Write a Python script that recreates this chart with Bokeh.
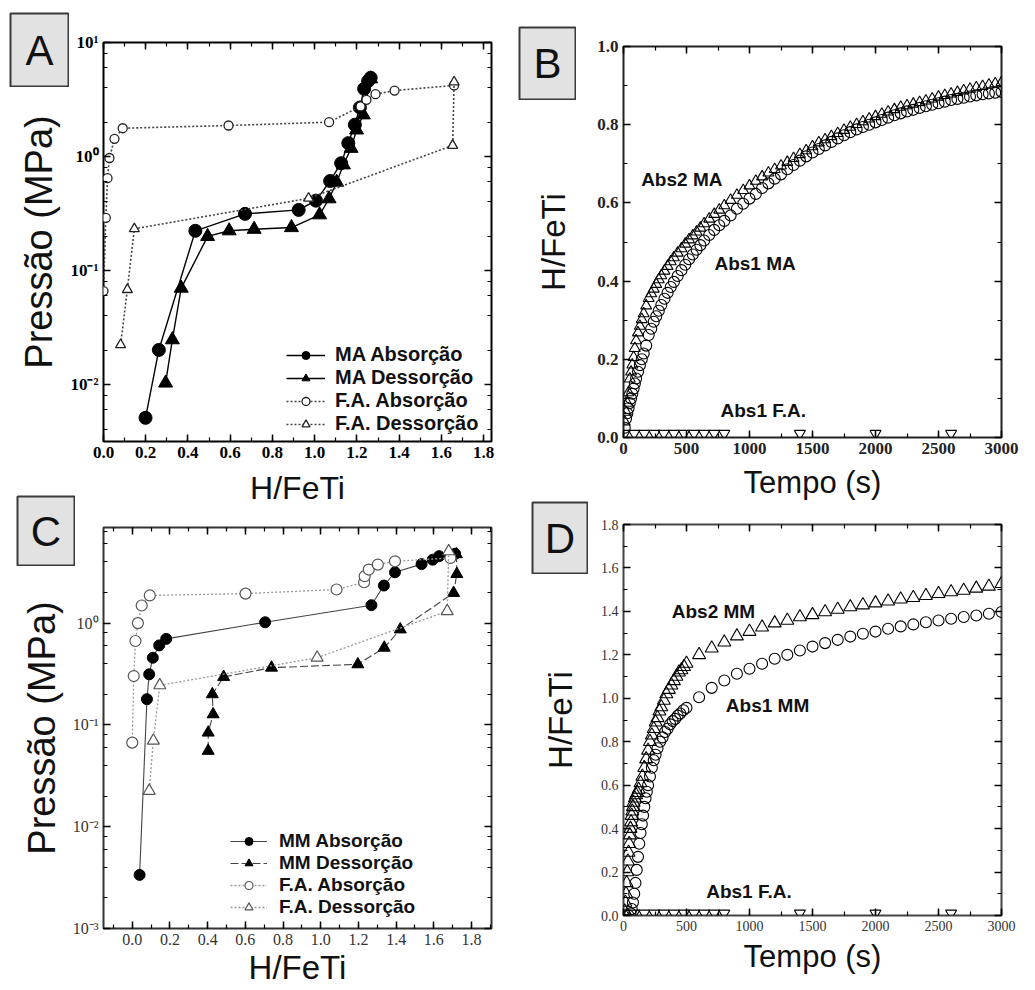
from bokeh.plotting import figure
from bokeh.layouts import row
from bokeh.models import (Range1d, LinearAxis, LogAxis, LogTicker, SingleIntervalTicker, GridBox,
                          CustomJSTickFormatter, PrintfTickFormatter, Label, Legend, LegendItem)
from bokeh.embed import file_html
from bokeh.resources import INLINE

# ---------------- data ----------------
# Panel A : PCT, MA vs F.A.
a_ma_abs_x = [0.199, 0.262, 0.435, 0.67, 0.924, 1.006, 1.073, 1.125, 1.159, 1.19, 1.214, 1.234, 1.253, 1.265]
a_ma_abs_y = [0.0051, 0.0201, 0.223, 0.314, 0.34, 0.41, 0.61, 0.873, 1.31, 1.9, 2.69, 3.93, 4.6, 4.9]
a_ma_des_x = [1.265, 1.23, 1.198, 1.172, 1.136, 1.104, 1.068, 1.023, 0.89, 0.713, 0.595, 0.493, 0.368, 0.326, 0.294]
a_ma_des_y = [4.8, 2.32, 1.71, 1.18, 0.845, 0.595, 0.426, 0.308, 0.238, 0.23, 0.223, 0.199, 0.07, 0.0247, 0.0103]
a_fa_abs_x = [0.0, 0.011, 0.019, 0.028, 0.052, 0.091, 0.592, 1.068, 1.217, 1.245, 1.288, 1.378, 1.66]
a_fa_abs_y = [0.066, 0.29, 0.645, 0.97, 1.43, 1.77, 1.87, 2.0, 2.75, 3.14, 3.52, 3.79, 4.2]
a_fa_des_x = [1.66, 1.653, 0.971, 0.146, 0.113, 0.081]
a_fa_des_y = [4.5, 1.25, 0.43, 0.232, 0.068, 0.0223]

# Panel B : kinetics MA
b_t = [10, 20, 30, 40, 50, 60, 70, 80, 90, 100,
       115, 130, 145, 160,
       180, 200, 220, 240, 260, 280, 300,
       325, 350, 375, 400,
       430, 460, 490, 520, 550, 580, 610, 640,
       680, 720, 760, 800,
       850, 900, 950, 1000, 1050, 1100, 1150, 1200, 1250, 1300, 1350, 1400, 1450, 1500,
       1550, 1600, 1650, 1700, 1750, 1800, 1850, 1900, 1950, 2000, 2050, 2100, 2150, 2200,
       2250, 2300, 2350, 2400, 2450, 2500, 2550, 2600, 2650, 2700, 2750, 2800, 2850, 2900,
       2950, 3000]
b_abs1_ma = [0.025, 0.048, 0.062, 0.075, 0.088, 0.10, 0.112, 0.125, 0.138, 0.151,
             0.168, 0.185, 0.2, 0.215,
             0.235, 0.262, 0.278, 0.296, 0.31, 0.324, 0.339,
             0.355, 0.37, 0.385, 0.398,
             0.413, 0.428, 0.442, 0.456, 0.468, 0.48, 0.492, 0.504,
             0.518, 0.531, 0.543, 0.554,
             0.568, 0.585, 0.598, 0.611, 0.623, 0.638, 0.65, 0.662, 0.673, 0.686, 0.697, 0.708, 0.719, 0.729,
             0.738, 0.747, 0.756, 0.765, 0.773, 0.781, 0.788, 0.794, 0.80, 0.806, 0.812, 0.818, 0.824, 0.829,
             0.834, 0.838, 0.843, 0.847, 0.851, 0.855, 0.859, 0.863, 0.866, 0.869, 0.872, 0.875, 0.878, 0.88,
             0.882, 0.884]
b_abs2_ma = [0.04, 0.065, 0.088, 0.115, 0.15, 0.168, 0.186, 0.205, 0.228, 0.248,
             0.268, 0.285, 0.302, 0.317,
             0.337, 0.356, 0.368, 0.38, 0.392, 0.404, 0.414,
             0.426, 0.438, 0.45, 0.46,
             0.472, 0.483, 0.495, 0.506, 0.516, 0.526, 0.536, 0.547,
             0.559, 0.571, 0.582, 0.593,
             0.607, 0.62, 0.632, 0.644, 0.656, 0.667, 0.677, 0.686, 0.695, 0.704, 0.714, 0.724, 0.734, 0.744,
             0.754, 0.762, 0.77, 0.778, 0.786, 0.794, 0.801, 0.808, 0.815, 0.821, 0.827, 0.833, 0.839, 0.845,
             0.849, 0.853, 0.857, 0.861, 0.866, 0.871, 0.875, 0.879, 0.883, 0.887, 0.891, 0.895, 0.898, 0.902,
             0.905, 0.908]
fa_t = [10, 85, 165, 245, 320, 400, 480, 560, 640, 720, 800, 1400, 2000, 2600]
fa_v = [0.01, 0.01, 0.01, 0.01, 0.01, 0.01, 0.01, 0.01, 0.01, 0.01, 0.01, 0.01, 0.01, 0.01]

# Panel C : PCT, MM vs F.A.
c_mm_abs_x = [0.039, 0.078, 0.09, 0.109, 0.143, 0.18, 0.705, 1.269, 1.335, 1.394, 1.535, 1.594, 1.628, 1.688, 1.713]
c_mm_abs_y = [0.00336, 0.179, 0.314, 0.457, 0.604, 0.70, 1.02, 1.5, 2.34, 3.16, 3.8, 4.2, 4.55, 4.71, 4.8]
c_mm_des_x = [1.72, 1.722, 1.705, 1.422, 1.337, 1.197, 0.739, 0.485, 0.425, 0.429, 0.403, 0.403]
c_mm_des_y = [4.75, 3.04, 1.98, 0.867, 0.573, 0.394, 0.365, 0.296, 0.2, 0.127, 0.084, 0.0556]
c_fa_abs_x = [0.0, 0.008, 0.017, 0.03, 0.05, 0.093, 0.601, 1.084, 1.23, 1.233, 1.255, 1.303, 1.394, 1.688]
c_fa_abs_y = [0.067, 0.302, 0.667, 1.0, 1.49, 1.87, 1.95, 2.14, 2.52, 2.89, 3.36, 3.76, 4.05, 4.37]
c_fa_des_x = [1.679, 1.671, 0.981, 0.146, 0.112, 0.09]
c_fa_des_y = [5.08, 1.31, 0.457, 0.245, 0.07, 0.0225]

# Panel D : kinetics MM
d_abs2_t = [10, 15, 20, 25, 30, 35, 40, 45, 50, 55, 60, 65, 70, 75, 80, 90, 100, 110, 120, 135, 150,
            165, 180, 195, 210, 225, 240, 255, 270, 285, 300, 320, 340, 360, 380, 400, 420, 440, 460,
            480, 500, 600, 700, 800, 900, 1000, 1100, 1200, 1300, 1400, 1500, 1600, 1700, 1800, 1900,
            2000, 2100, 2200, 2300, 2400, 2500, 2600, 2700, 2800, 2900, 3000]
d_abs2_mm = [0.02, 0.06, 0.10, 0.15, 0.20, 0.25, 0.29, 0.33, 0.37, 0.40, 0.43, 0.46, 0.48, 0.50, 0.52,
             0.54, 0.555, 0.565, 0.58, 0.61, 0.64, 0.68, 0.72, 0.76, 0.80, 0.83, 0.86, 0.89, 0.91, 0.94,
             0.96, 0.99, 1.02, 1.04, 1.06, 1.08, 1.10, 1.12, 1.13, 1.145, 1.16, 1.20, 1.23, 1.258, 1.286,
             1.307, 1.327, 1.346, 1.358, 1.374, 1.384, 1.397, 1.409, 1.42, 1.429, 1.438, 1.447, 1.456,
             1.463, 1.472, 1.481, 1.489, 1.496, 1.506, 1.515, 1.527]
d_abs1_t = [40, 55, 65, 75, 85, 95, 105, 115, 125, 135, 145, 155, 165, 175, 185, 195, 210, 225, 240,
            255, 270, 290, 310, 330, 350, 370, 390, 410, 430, 450, 475, 500, 600, 700, 800, 900, 1000,
            1100, 1200, 1300, 1400, 1500, 1600, 1700, 1800, 1900, 2000, 2100, 2200, 2300, 2400, 2500,
            2600, 2700, 2800, 2900, 3000]
d_abs1_mm = [0.0, 0.01, 0.03, 0.06, 0.10, 0.15, 0.21, 0.27, 0.33, 0.38, 0.42, 0.46, 0.50, 0.54, 0.57,
             0.60, 0.64, 0.68, 0.715, 0.74, 0.77, 0.80, 0.82, 0.845, 0.86, 0.88, 0.895, 0.905, 0.92, 0.93,
             0.945, 0.956, 1.005, 1.048, 1.082, 1.113, 1.136, 1.159, 1.182, 1.20, 1.22, 1.238, 1.254,
             1.269, 1.284, 1.297, 1.307, 1.32, 1.331, 1.34, 1.35, 1.358, 1.366, 1.374, 1.381, 1.389, 1.397]

legend_a = ["MA Absorção", "MA Dessorção", "F.A. Absorção", "F.A. Dessorção"]
legend_c = ["MM Absorção", "MM Dessorção", "F.A. Absorção", "F.A. Dessorção"]
panel_letters = ["A", "B", "C", "D"]

# ---------------- styling helpers ----------------
SERIF = "Liberation Serif"
SANS = "Liberation Sans"

SUP_JS = """
const sup = {"-": "\u207b", "0": "\u2070", "1": "\u00b9", "2": "\u00b2", "3": "\u00b3",
             "4": "\u2074", "5": "\u2075", "6": "\u2076", "7": "\u2077", "8": "\u2078", "9": "\u2079"};
const e = Math.round(Math.log10(tick));
return "10" + String(e).split("").map(c => sup[c]).join("");
"""
EMPTY_JS = "return '';"


def tick_style(ax, size, bold, color):
    ax.major_tick_in = 7
    ax.major_tick_out = 0
    ax.minor_tick_in = 4
    ax.minor_tick_out = 0
    ax.major_tick_line_width = 1.5
    ax.minor_tick_line_width = 1.2
    ax.major_tick_line_color = "black"
    ax.minor_tick_line_color = "black"
    ax.axis_line_color = None
    ax.major_label_text_font = SERIF
    ax.major_label_text_font_size = size
    ax.major_label_text_font_style = "bold" if bold else "normal"
    ax.major_label_text_color = color
    ax.axis_label_text_font = SANS
    ax.axis_label_text_font_style = "normal"
    ax.axis_label_text_color = "#111111"


def make_panel(w, h, bl, br, bt, bb, xr, yr, ylog, xint, xminor, yint, yminor,
               tsize, tbold, tcolor, outline, xlabel, ylabel, xl_size, yl_size,
               xl_standoff, yl_standoff, xfmt):
    p = figure(width=w, height=h, x_range=Range1d(*xr), y_range=Range1d(*yr),
               y_axis_type="log" if ylog else "linear",
               output_backend="svg", toolbar_location=None,
               min_border_left=bl, min_border_right=br, min_border_top=bt, min_border_bottom=bb)
    p.grid.visible = False
    p.background_fill_color = "white"
    p.border_fill_color = "white"
    p.outline_line_color = outline
    p.outline_line_width = 2

    xa = p.xaxis[0]
    ya = p.yaxis[0]
    xa.ticker = SingleIntervalTicker(interval=xint, num_minor_ticks=xminor)
    xa.formatter = xfmt
    if ylog:
        ya.ticker = LogTicker(desired_num_ticks=5)
        ya.formatter = CustomJSTickFormatter(code=SUP_JS)
    else:
        ya.ticker = SingleIntervalTicker(interval=yint, num_minor_ticks=yminor)
        ya.formatter = PrintfTickFormatter(format="%.1f")
    tick_style(xa, tsize, tbold, tcolor)
    tick_style(ya, tsize, tbold, tcolor)
    xa.axis_label = xlabel
    ya.axis_label = ylabel
    xa.axis_label_text_font_size = xl_size
    ya.axis_label_text_font_size = yl_size
    xa.axis_label_standoff = xl_standoff
    ya.axis_label_standoff = yl_standoff
    xa.major_label_standoff = 5
    ya.major_label_standoff = 5

    # mirrored axes (ticks only, tiny empty labels so they reserve almost no room)
    if ylog:
        ry = LogAxis(ticker=LogTicker(desired_num_ticks=5), formatter=CustomJSTickFormatter(code=EMPTY_JS))
    else:
        ry = LinearAxis(ticker=SingleIntervalTicker(interval=yint, num_minor_ticks=yminor),
                        formatter=CustomJSTickFormatter(code=EMPTY_JS))
    tx = LinearAxis(ticker=SingleIntervalTicker(interval=xint, num_minor_ticks=xminor),
                    formatter=CustomJSTickFormatter(code=EMPTY_JS))
    for ax in (ry, tx):
        tick_style(ax, "1px", False, "black")
        ax.major_label_standoff = 0
        ax.axis_label_standoff = 0
        ax.axis_label_text_font_size = "1px"
    p.add_layout(ry, "right")
    p.add_layout(tx, "above")
    return p


def letter_box(text, w, h):
    f = figure(width=w, height=h, x_range=Range1d(0, 1), y_range=Range1d(0, 1),
               x_axis_type=None, y_axis_type=None, toolbar_location=None,
               output_backend="svg", min_border=1)
    f.background_fill_color = "#e2e2e2"
    f.border_fill_color = None
    f.outline_line_color = "#3a3a3a"
    f.outline_line_width = 2
    f.add_layout(Label(x=0.5, y=0.5, text=text, text_font=SANS, text_font_size="42px",
                       text_align="center", text_baseline="middle", text_color="#111111"))
    return f


def px(tracks):
    return [f"{v}px" for v in tracks]


def note(p, x, y, text):
    p.add_layout(Label(x=x, y=y, text=text, text_font=SANS, text_font_style="bold",
                       text_font_size="19px", text_baseline="middle", text_color="#111111"))


def legend(p, items, loc, gw, standoff, fsize):
    p.add_layout(Legend(items=items, location=loc, padding=0, margin=0, spacing=0,
                        glyph_width=gw, glyph_height=20, label_height=20, label_standoff=standoff,
                        label_text_font=SANS, label_text_font_style="bold",
                        label_text_font_size=fsize, label_text_color="#111111",
                        background_fill_alpha=0, border_line_color=None))


# ---------------- Panel A ----------------
pA = make_panel(514, 512, 100, 23, 42, 71, (0.0, 1.837), (10 ** -2.5, 10.0), True, 0.2, 2, None, None,
                "17px", True, "black", "black", "H/FeTi", "Pressão (MPa)", "32px", "38px", 9, 7,
                PrintfTickFormatter(format="%.1f"))
lA1 = pA.line(a_ma_abs_x, a_ma_abs_y, line_color="black", line_width=1.4)
sA1 = pA.scatter(a_ma_abs_x, a_ma_abs_y, marker="circle", size=13, fill_color="black", line_color="black")
lA2 = pA.line(a_ma_des_x, a_ma_des_y, line_color="black", line_width=1.4)
sA2 = pA.scatter(a_ma_des_x, a_ma_des_y, marker="triangle", size=14, fill_color="black", line_color="black")
lA3 = pA.line(a_fa_abs_x, a_fa_abs_y, line_color="#444444", line_width=1.6, line_dash="2 2")
sA3 = pA.scatter(a_fa_abs_x, a_fa_abs_y, marker="circle", size=9, fill_color="white", line_color="#222222", line_width=1.3)
lA4 = pA.line(a_fa_des_x, a_fa_des_y, line_color="#444444", line_width=1.6, line_dash="2 2")
sA4 = pA.scatter(a_fa_des_x, a_fa_des_y, marker="triangle", size=10, fill_color="white", line_color="#222222", line_width=1.3)
legend(pA, [LegendItem(label=legend_a[0], renderers=[lA1, sA1]),
            LegendItem(label=legend_a[1], renderers=[lA2, sA2]),
            LegendItem(label=legend_a[2], renderers=[lA3, sA3]),
            LegendItem(label=legend_a[3], renderers=[lA4, sA4])], (183, 6), 39, 10, "20px")

# ---------------- Panel B ----------------
pB = make_panel(521, 506, 105, 34, 46, 69, (0, 3000), (0.0, 1.0), False, 500, 2, 0.2, 2,
                "17px", True, "#222222", "#222222", "Tempo (s)", "H/FeTi", "31px", "33px", 8, 22,
                PrintfTickFormatter(format="%d"))
pB.scatter(b_t, b_abs1_ma, marker="circle", size=11, fill_color=None, line_color="black", line_width=1.1)
pB.scatter(b_t, b_abs2_ma, marker="triangle", size=11, fill_color=None, line_color="black", line_width=1.1)
pB.scatter(fa_t, fa_v, marker="inverted_triangle", size=11, fill_color=None, line_color="black", line_width=1.1)
note(pB, 140, 0.66, "Abs2 MA")
note(pB, 722, 0.445, "Abs1 MA")
note(pB, 770, 0.069, "Abs1 F.A.")

# ---------------- Panel C ----------------
pC = make_panel(514, 478, 103, 6, 15, 62, (-0.1525, 1.906), (0.000999, 8.7), True, 0.2, 2, None, None,
                "16px", False, "#333333", "#333333", "H/FeTi", "Pressão (MPa)", "33px", "38px", 1, 7,
                PrintfTickFormatter(format="%.1f"))
lC1 = pC.line(c_mm_abs_x, c_mm_abs_y, line_color="#444444", line_width=1.1)
sC1 = pC.scatter(c_mm_abs_x, c_mm_abs_y, marker="circle", size=11, fill_color="black", line_color="black")
lC2 = pC.line(c_mm_des_x, c_mm_des_y, line_color="#444444", line_width=1.1, line_dash="8 3")
sC2 = pC.scatter(c_mm_des_x, c_mm_des_y, marker="triangle", size=12, fill_color="black", line_color="black")
lC3 = pC.line(c_fa_abs_x, c_fa_abs_y, line_color="#999999", line_width=1.3, line_dash="2 2")
sC3 = pC.scatter(c_fa_abs_x, c_fa_abs_y, marker="circle", size=11, fill_color="white", line_color="#555555", line_width=1.2)
lC4 = pC.line(c_fa_des_x, c_fa_des_y, line_color="#999999", line_width=1.3, line_dash="2 2")
sC4 = pC.scatter(c_fa_des_x, c_fa_des_y, marker="triangle", size=12, fill_color="white", line_color="#555555", line_width=1.2)
legend(pC, [LegendItem(label=legend_c[0], renderers=[lC1, sC1]),
            LegendItem(label=legend_c[1], renderers=[lC2, sC2]),
            LegendItem(label=legend_c[2], renderers=[lC3, sC3]),
            LegendItem(label=legend_c[3], renderers=[lC4, sC4])], (127, 10), 37, 12, "19px")

# ---------------- Panel D ----------------
pD = make_panel(521, 484, 109, 28, 18, 75, (0, 3000), (0.0, 1.8), False, 500, 2, 0.2, 2,
                "14px", False, "#333333", "#444444", "Tempo (s)", "H/FeTi", "31px", "33px", 5, 19,
                PrintfTickFormatter(format="%d"))
pD.scatter(d_abs1_t, d_abs1_mm, marker="circle", size=11, fill_color=None, line_color="black", line_width=1.1)
pD.scatter(d_abs2_t, d_abs2_mm, marker="triangle", size=13, fill_color=None, line_color="black", line_width=1.1)
pD.scatter(fa_t, fa_v, marker="inverted_triangle", size=11, fill_color=None, line_color="black", line_width=1.1)
note(pD, 383, 1.40, "Abs2 MM")
note(pD, 812, 0.967, "Abs1 MM")
note(pD, 656, 0.11, "Abs1 F.A.")

# ---------------- assemble: two fixed grids, letter boxes overlaid in their own cells ----------------
left = GridBox(children=[(pA, 0, 0, 4, 5), (pC, 4, 0, 2, 5),
                         (letter_box(panel_letters[0], 60, 75), 1, 1, 1, 2),
                         (letter_box(panel_letters[2], 59, 71), 3, 2, 2, 2)],
               rows=px([12, 75, 408, 17, 54, 424]), cols=px([9, 7, 53, 6, 439]))
right = GridBox(children=[(pB, 0, 0, 4, 5), (pD, 4, 0, 2, 5),
                          (letter_box(panel_letters[1], 58, 74), 1, 1, 1, 2),
                          (letter_box(panel_letters[3], 57, 73), 3, 2, 2, 2)],
                rows=px([26, 74, 401, 5, 68, 416]), cols=px([4, 13, 45, 12, 447]))

layout = row(left, right)

with open("out.html", "w", encoding="utf-8") as f:
    f.write(file_html(layout, INLINE))
